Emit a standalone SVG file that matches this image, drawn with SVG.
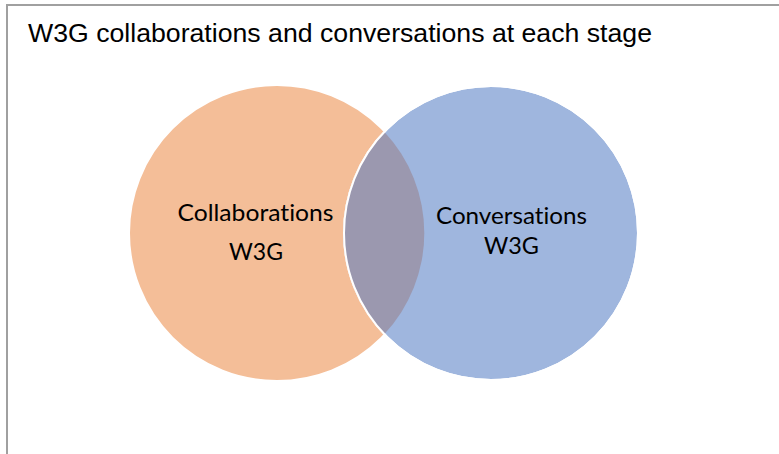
<svg xmlns="http://www.w3.org/2000/svg" width="779" height="454" viewBox="0 0 779 454">
<style>
.title{font-family:"Liberation Sans",Arial,sans-serif;font-size:25px;fill:#000}
.lbl{font-family:Lato,"Open Sans",sans-serif;font-size:23px;fill:#000;text-anchor:middle;font-variant-ligatures:none}
.frame{stroke:#a0a0a0;stroke-width:2;fill:none}
</style>
<rect width="779" height="454" fill="#fff"/>
<path class="frame" d="M7 454 V5 H779"/>
<text class="title" x="28" y="41.5" textLength="624" lengthAdjust="spacingAndGlyphs">W3G collaborations and conversations at each stage</text>
<g id="collaborations">
<circle cx="277" cy="233" r="148" fill="#F4BE98" stroke="#fff" stroke-width="2"/>
</g>
<g id="conversations">
<circle cx="491" cy="233" r="147" fill="#9FB6DE" stroke="#fff" stroke-width="2"/>
</g>
<g id="overlap">
<path d="M384 131.5 A147 147 0 0 0 384 334.5 A148 148 0 0 0 384 131.5 Z" fill="#9B98AF"/>
<circle cx="491" cy="233" r="147" fill="none" stroke="#fff" stroke-width="2"/>
</g>
<g id="labels">
<text class="lbl" x="255.5" y="221" textLength="156" lengthAdjust="spacingAndGlyphs">Collaborations</text>
<text class="lbl" x="256" y="259.5" textLength="54" lengthAdjust="spacingAndGlyphs">W3G</text>
<text class="lbl" x="511.5" y="224" textLength="151" lengthAdjust="spacingAndGlyphs">Conversations</text>
<text class="lbl" x="511.5" y="254" textLength="55" lengthAdjust="spacingAndGlyphs">W3G</text>
</g>
</svg>
